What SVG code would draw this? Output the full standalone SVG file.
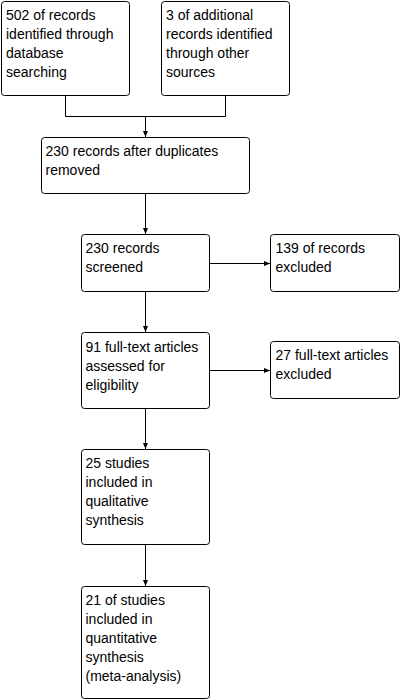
<svg xmlns="http://www.w3.org/2000/svg" width="402" height="700" viewBox="0 0 402 700">
<defs>
<style>
.box{fill:#fff;stroke:#000;stroke-width:1}
.t{font-family:"Liberation Sans",Arial,sans-serif;font-size:14px;fill:#000}
.c{fill:none;stroke:#000;stroke-width:1}
</style>
<marker id="ah" markerWidth="6" markerHeight="6" refX="6" refY="3" orient="auto" markerUnits="userSpaceOnUse">
<path d="M0,0.5 L6,3 L0,5.5 Z" fill="#000"/>
</marker>
</defs>
<rect width="402" height="700" fill="#fff"/>
<g id="connectors">
<path class="c" d="M65.5,95.5 V116.5 H225.5 V95.5"/>
<path class="c" d="M145.5,116.5 V137" marker-end="url(#ah)"/>
<path class="c" d="M145.5,193.5 V234" marker-end="url(#ah)"/>
<path class="c" d="M145.5,291.5 V332" marker-end="url(#ah)"/>
<path class="c" d="M145.5,408.5 V449" marker-end="url(#ah)"/>
<path class="c" d="M145.5,544.5 V586" marker-end="url(#ah)"/>
<path class="c" d="M210,263.5 H270" marker-end="url(#ah)"/>
<path class="c" d="M210,370.5 H270" marker-end="url(#ah)"/>
</g>
<g id="n1">
<rect class="box" x="1.5" y="1.5" width="128" height="94" rx="3"/>
<text class="t" x="6" y="20">502 of records</text>
<text class="t" x="6" y="39">identified through</text>
<text class="t" x="6" y="58">database</text>
<text class="t" x="6" y="77">searching</text>
</g>
<g id="n2">
<rect class="box" x="161.5" y="1.5" width="128" height="94" rx="3"/>
<text class="t" x="166" y="20">3 of additional</text>
<text class="t" x="166" y="39">records identified</text>
<text class="t" x="166" y="58">through other</text>
<text class="t" x="166" y="77">sources</text>
</g>
<g id="n3">
<rect class="box" x="41.5" y="137.5" width="208" height="56" rx="3"/>
<text class="t" x="45.5" y="156">230 records after duplicates</text>
<text class="t" x="45.5" y="175">removed</text>
</g>
<g id="n4">
<rect class="box" x="81.5" y="234.5" width="128" height="57" rx="3"/>
<text class="t" x="85.5" y="253">230 records</text>
<text class="t" x="85.5" y="272">screened</text>
</g>
<g id="n5">
<rect class="box" x="270.5" y="234.5" width="129" height="57" rx="3"/>
<text class="t" x="275.5" y="253">139 of records</text>
<text class="t" x="275.5" y="272">excluded</text>
</g>
<g id="n6">
<rect class="box" x="81.5" y="332.5" width="128" height="76" rx="3"/>
<text class="t" x="85.5" y="352">91 full-text articles</text>
<text class="t" x="85.5" y="371">assessed for</text>
<text class="t" x="85.5" y="390">eligibility</text>
</g>
<g id="n7">
<rect class="box" x="270.5" y="341.5" width="129" height="57" rx="3"/>
<text class="t" x="275.5" y="360">27 full-text articles</text>
<text class="t" x="275.5" y="379">excluded</text>
</g>
<g id="n8">
<rect class="box" x="81.5" y="449.5" width="128" height="95" rx="3"/>
<text class="t" x="85.5" y="468">25 studies</text>
<text class="t" x="85.5" y="487">included in</text>
<text class="t" x="85.5" y="506">qualitative</text>
<text class="t" x="85.5" y="525">synthesis</text>
</g>
<g id="n9">
<rect class="box" x="81.5" y="586.5" width="128" height="112" rx="3"/>
<text class="t" x="85.5" y="605">21 of studies</text>
<text class="t" x="85.5" y="624">included in</text>
<text class="t" x="85.5" y="643">quantitative</text>
<text class="t" x="85.5" y="662">synthesis</text>
<text class="t" x="85.5" y="681">(meta-analysis)</text>
</g>
</svg>
